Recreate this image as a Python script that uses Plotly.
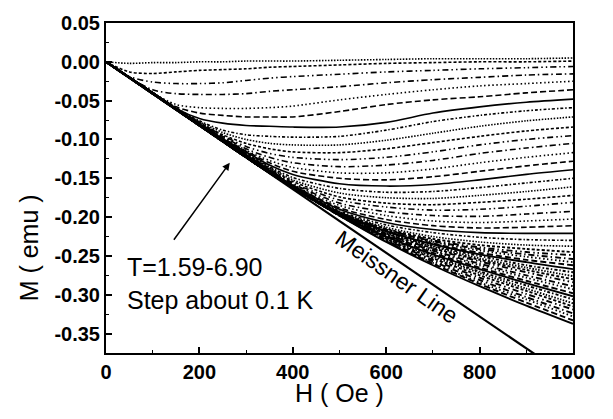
import plotly.graph_objects as go

# ---------------- data ----------------
H_OE = [0, 50, 100, 150, 200, 250, 300, 350, 400, 500, 600, 700, 800, 900, 1000]

# high-temperature curves (top of the chart), top to bottom
M_HIGH_T = [
    [0, -.002, -.001, -.001, 0.000, 0.000, 0.001, 0.001, 0.001, 0.002, 0.003, 0.004, 0.004, 0.004, 0.005],
    [0, -.013, -.015, -.013, -.011, -.010, -.009, -.007, -.006, -.004, -.002, -.001, 0.000, 0.000, 0.001],
    [0, -.019, -.026, -.028, -.028, -.027, -.024, -.021, -.019, -.016, -.013, -.011, -.009, -.0075, -.006],
    [0, -.020, -.036, -.041, -.042, -.042, -.041, -.038, -.036, -.032, -.027, -.023, -.020, -.017, -.0155],
    [0, -.020, -.040, -.055, -.059, -.060, -.060, -.059, -.057, -.049, -.042, -.036, -.031, -.028, -.025],
    [0, -.020, -.040, -.058, -.066, -.069, -.071, -.071, -.071, -.064, -.055, -.049, -.045, -.040, -.036],
    [0, -.020, -.040, -.060, -.073, -.079, -.082, -.083, -.084, -.084, -.078, -.066, -.058, -.052, -.048],
]

# intermediate-temperature curves
M_MID_T = [
    [0, -.020, -.040, -.059, -.076, -.088, -.094, -.096, -.097, -.096, -.088, -.077, -.069, -.063, -.059],
    [0, -.020, -.040, -.060, -.077, -.091, -.100, -.105, -.107, -.107, -.101, -.092, -.083, -.076, -.071],
    [0, -.020, -.040, -.060, -.078, -.094, -.105, -.112, -.116, -.117, -.112, -.104, -.096, -.089, -.084],
    [0, -.020, -.040, -.060, -.078, -.095, -.109, -.118, -.123, -.126, -.123, -.116, -.107, -.100, -.095],
    [0, -.020, -.040, -.060, -.079, -.096, -.112, -.123, -.130, -.135, -.133, -.127, -.118, -.111, -.105],
    [0, -.020, -.040, -.060, -.079, -.097, -.114, -.127, -.136, -.143, -.143, -.138, -.130, -.123, -.117],
    [0, -.020, -.040, -.061, -.079, -.098, -.115, -.130, -.141, -.150, -.152, -.148, -.141, -.134, -.128],
    [0, -.020, -.040, -.061, -.080, -.099, -.116, -.133, -.145, -.157, -.160, -.158, -.152, -.145, -.139],
    [0, -.020, -.040, -.061, -.080, -.099, -.117, -.135, -.149, -.163, -.168, -.167, -.162, -.156, -.150],
    [0, -.020, -.040, -.061, -.080, -.100, -.118, -.136, -.152, -.169, -.175, -.176, -.172, -.167, -.161],
    [0, -.020, -.040, -.061, -.080, -.100, -.118, -.137, -.154, -.174, -.182, -.184, -.181, -.177, -.172],
    [0, -.020, -.040, -.061, -.080, -.100, -.119, -.138, -.156, -.178, -.187, -.191, -.190, -.186, -.181],
    [0, -.020, -.040, -.061, -.080, -.100, -.119, -.139, -.157, -.182, -.193, -.198, -.199, -.196, -.1925],
    [0, -.020, -.040, -.061, -.081, -.101, -.120, -.139, -.158, -.185, -.198, -.205, -.207, -.205, -.2025],
    [0, -.020, -.040, -.061, -.081, -.101, -.120, -.140, -.159, -.188, -.203, -.211, -.214, -.213, -.211],
    [0, -.020, -.040, -.061, -.081, -.101, -.120, -.140, -.159, -.190, -.207, -.216, -.220, -.221, -.221],
    [0, -.020, -.040, -.061, -.081, -.101, -.121, -.140, -.160, -.192, -.210, -.220, -.226, -.229, -.230],
    [0, -.020, -.040, -.061, -.081, -.101, -.121, -.141, -.160, -.193, -.213, -.225, -.232, -.236, -.2375],
]

# low-temperature curves (dense band)
M_LOW_T = [
    [0, -.020, -.040, -.061, -.081, -.101, -.121, -.141, -.161, -.194, -.215, -.228, -.236, -.241, -.245],
    [0, -.020, -.040, -.061, -.081, -.101, -.121, -.141, -.161, -.194, -.216, -.230, -.239, -.245, -.249],
    [0, -.020, -.040, -.061, -.081, -.101, -.121, -.141, -.161, -.194, -.216, -.231, -.241, -.248, -.254],
    [0, -.020, -.040, -.061, -.081, -.101, -.121, -.141, -.161, -.195, -.217, -.232, -.243, -.251, -.258],
    [0, -.020, -.040, -.061, -.081, -.101, -.121, -.141, -.161, -.195, -.218, -.234, -.246, -.255, -.262],
    [0, -.020, -.040, -.061, -.081, -.101, -.121, -.141, -.161, -.195, -.218, -.235, -.248, -.258, -.267],
    [0, -.020, -.040, -.061, -.081, -.101, -.121, -.141, -.161, -.195, -.219, -.237, -.250, -.262, -.271],
    [0, -.020, -.040, -.061, -.081, -.101, -.121, -.141, -.161, -.196, -.220, -.238, -.253, -.265, -.276],
    [0, -.020, -.040, -.061, -.081, -.101, -.121, -.141, -.161, -.196, -.221, -.240, -.255, -.268, -.280],
    [0, -.020, -.040, -.061, -.081, -.101, -.121, -.141, -.161, -.196, -.222, -.241, -.257, -.271, -.284],
    [0, -.020, -.040, -.061, -.081, -.101, -.121, -.141, -.161, -.196, -.223, -.243, -.260, -.275, -.289],
    [0, -.0205, -.041, -.0615, -.082, -.1025, -.123, -.143, -.162, -.196, -.223, -.244, -.262, -.278, -.293],
    [0, -.0205, -.041, -.0615, -.082, -.1025, -.123, -.143, -.162, -.197, -.224, -.246, -.265, -.282, -.298],
    [0, -.0205, -.041, -.0615, -.082, -.1025, -.123, -.143, -.162, -.197, -.225, -.248, -.267, -.285, -.302],
    [0, -.0205, -.041, -.0615, -.082, -.1025, -.123, -.143, -.162, -.197, -.226, -.249, -.270, -.288, -.306],
    [0, -.0205, -.041, -.0615, -.082, -.1025, -.123, -.143, -.162, -.197, -.227, -.251, -.272, -.292, -.311],
    [0, -.0205, -.041, -.0615, -.082, -.1025, -.123, -.143, -.162, -.197, -.228, -.253, -.275, -.295, -.315],
    [0, -.0205, -.041, -.0615, -.082, -.1025, -.123, -.143, -.162, -.198, -.229, -.255, -.278, -.299, -.319],
    [0, -.0205, -.041, -.0615, -.082, -.1025, -.123, -.143, -.162, -.198, -.230, -.257, -.281, -.303, -.324],
    [0, -.0205, -.041, -.0615, -.082, -.1025, -.123, -.143, -.162, -.198, -.231, -.259, -.284, -.306, -.328],
    [0, -.0205, -.041, -.0615, -.082, -.1025, -.123, -.143, -.162, -.198, -.231, -.260, -.286, -.310, -.333],
    [0, -.0205, -.041, -.0615, -.082, -.1025, -.123, -.143, -.162, -.198, -.232, -.262, -.289, -.314, -.3375],
]

MEISSNER_H = [0, 1000]
MEISSNER_M = [0, -0.41]

X_TICKS = [0, 200, 400, 600, 800, 1000]
X_TICK_LABELS = ["0", "200", "400", "600", "800", "1000"]
Y_TICKS = [0.05, 0.00, -0.05, -0.10, -0.15, -0.20, -0.25, -0.30, -0.35]
Y_TICK_LABELS = ["0.05", "0.00", "-0.05", "-0.10", "-0.15", "-0.20", "-0.25", "-0.30", "-0.35"]

# ---------------- styles ----------------
FONT = "Liberation Sans, Arial, sans-serif"
DASHES = [
    "solid",
    "6px,3px",
    "1.5px,2.5px",
    "6px,3px,1.5px,3px",
    "6px,3px,1.5px,3px,1.5px,3px",
    "3px,2px",
    "1.5px,1.5px",
    "3px,2px,1.5px,2px",
]

all_curves = M_HIGH_T + M_MID_T + M_LOW_T
n_band = len(M_LOW_T)
n = len(all_curves)

fig = go.Figure()
for i, m in enumerate(all_curves):
    j = n - 1 - i
    width = 1.9 if j < n_band else 1.6
    fig.add_trace(go.Scatter(
        x=H_OE, y=m, mode="lines",
        line=dict(color="black", width=width, dash=DASHES[j % len(DASHES)],
                  shape="spline", smoothing=0.8),
        showlegend=False, hoverinfo="skip",
    ))

fig.add_trace(go.Scatter(
    x=MEISSNER_H, y=MEISSNER_M, mode="lines",
    line=dict(color="black", width=2.2),
    showlegend=False, hoverinfo="skip",
))

axis_common = dict(
    showgrid=False, zeroline=False,
    showline=True, linecolor="black", linewidth=2, mirror=True,
    ticks="inside", ticklen=6, tickwidth=1.5, tickcolor="black",
    tickfont=dict(family=FONT, size=20, color="black", weight=700),
)

fig.update_layout(
    width=613, height=419,
    margin=dict(l=106, r=40, t=13, b=66),
    paper_bgcolor="white", plot_bgcolor="white",
    xaxis=dict(range=[0, 1000], tickvals=X_TICKS, ticktext=X_TICK_LABELS,
               minor=dict(dtick=100, tick0=0, ticks="inside", ticklen=3,
                          tickwidth=1.2, tickcolor="black"),
               **axis_common),
    yaxis=dict(range=[-0.375, 0.05], tickvals=Y_TICKS, ticktext=Y_TICK_LABELS,
               minor=dict(dtick=0.025, tick0=0, ticks="inside", ticklen=3,
                          tickwidth=1.2, tickcolor="black"),
               **axis_common),
    annotations=[
        dict(text="H ( Oe )", xref="paper", yref="paper", x=0.5, y=-0.12,
             xanchor="center", yanchor="middle", showarrow=False,
             font=dict(family=FONT, size=25, color="black")),
        dict(text="M ( emu )", xref="paper", yref="paper", x=-0.165, y=0.32,
             xanchor="center", yanchor="middle", showarrow=False, textangle=-90,
             font=dict(family=FONT, size=25, color="black")),
        dict(text="T=1.59-6.90<br>Step about 0.1 K", xref="paper", yref="paper",
             x=0.04, y=0.212, xanchor="left", yanchor="middle", align="left",
             showarrow=False, font=dict(family=FONT, size=25, color="black")),
        dict(text="Meissner Line", x=623, y=-0.2775, xref="x", yref="y",
             showarrow=False, textangle=35,
             font=dict(family=FONT, size=23, color="black")),
        dict(text="", x=265, y=-0.13, ax=143, ay=-0.231, xref="x", yref="y",
             axref="x", ayref="y", showarrow=True, arrowhead=2, arrowsize=1,
             arrowwidth=1.5, arrowcolor="black"),
    ],
)

fig.write_html("out.html", config={"displayModeBar": False})
